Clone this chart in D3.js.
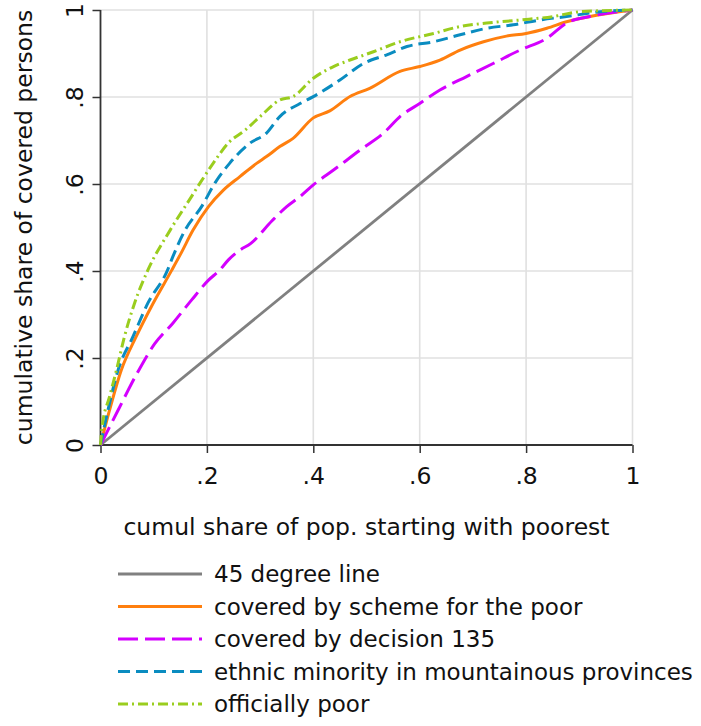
<!DOCTYPE html>
<html>
<head>
<meta charset="utf-8">
<script src="https://cdn.jsdelivr.net/npm/d3@7"></script>
<style>
  body { margin: 0; background: #fff; }
  svg text { font-family: "DejaVu Sans", Verdana, sans-serif; fill: #111; }
</style>
</head>
<body>
<svg id="chart" width="701" height="726"></svg>
<script>
// concentration curves: cumulative share of covered persons vs population share
const ticks = [0, 0.2, 0.4, 0.6, 0.8, 1];
const tickLabels = ["0", ".2", ".4", ".6", ".8", "1"];

const diagonal = [[0, 0], [1, 1]];
const schemePoor = [[0,0],[0.017,0.08],[0.039,0.172],[0.067,0.249],[0.099,0.326],[0.134,0.402],[0.151,0.44],[0.174,0.494],[0.203,0.548],[0.231,0.586],[0.262,0.617],[0.294,0.648],[0.312,0.663],[0.337,0.686],[0.362,0.705],[0.4,0.752],[0.431,0.768],[0.469,0.801],[0.506,0.82],[0.563,0.859],[0.6,0.87],[0.638,0.885],[0.676,0.908],[0.72,0.927],[0.763,0.94],[0.8,0.946],[0.839,0.958],[0.876,0.973],[0.92,0.985],[1,1]];
const decision135 = [[0,0],[0.033,0.08],[0.072,0.172],[0.102,0.233],[0.136,0.28],[0.171,0.333],[0.203,0.379],[0.224,0.402],[0.24,0.425],[0.262,0.448],[0.282,0.463],[0.322,0.515],[0.35,0.548],[0.375,0.571],[0.4,0.598],[0.438,0.632],[0.488,0.678],[0.532,0.717],[0.563,0.755],[0.6,0.785],[0.638,0.816],[0.688,0.847],[0.738,0.877],[0.789,0.908],[0.839,0.935],[0.876,0.97],[0.92,0.985],[1,1]];
const ethnicMountain = [[0,0],[0.014,0.08],[0.033,0.172],[0.061,0.249],[0.089,0.326],[0.126,0.402],[0.136,0.433],[0.159,0.494],[0.19,0.548],[0.215,0.602],[0.243,0.648],[0.281,0.694],[0.312,0.717],[0.337,0.755],[0.375,0.785],[0.4,0.801],[0.45,0.839],[0.494,0.877],[0.538,0.897],[0.576,0.916],[0.626,0.927],[0.676,0.943],[0.726,0.958],[0.776,0.966],[0.826,0.977],[0.876,0.985],[0.939,0.996],[1,1]];
const officiallyPoor = [[0,0],[0.003,0.042],[0.017,0.111],[0.03,0.172],[0.045,0.249],[0.064,0.326],[0.089,0.402],[0.131,0.494],[0.171,0.571],[0.187,0.602],[0.212,0.648],[0.24,0.694],[0.272,0.724],[0.3,0.755],[0.337,0.793],[0.362,0.801],[0.4,0.843],[0.438,0.87],[0.469,0.885],[0.513,0.904],[0.563,0.927],[0.626,0.946],[0.676,0.962],[0.726,0.97],[0.789,0.977],[0.851,0.985],[0.901,0.996],[1,1]];

const seriesNames = ["45 degree line", "covered by scheme for the poor", "covered by decision 135", "ethnic minority in mountainous provinces", "officially poor"];
const seriesData = [diagonal, schemePoor, decision135, ethnicMountain, officiallyPoor];

const colors = ["#808080", "#ff7f0e", "#d400ff", "#0a8cc0", "#9acd1e"];
const dashes = [null, null, "20 7", "12 6", "10 4 2 4"];
const widths = [2.8, 3, 3, 3, 3];
const fs = 23.5;

const svg = d3.select("#chart");
const mar = { top: 10, right: 68.5, bottom: 281, left: 100.5 };
const w = 701 - mar.left - mar.right;
const h = 726 - mar.top - mar.bottom;
const g = svg.append("g").attr("transform", `translate(${mar.left},${mar.top})`);

const x = d3.scaleLinear().domain([0, 1]).range([0, w]);
const y = d3.scaleLinear().domain([0, 1]).range([h, 0]);
// scales

g.append("g").selectAll("line")
    .data(ticks.slice(1))
    .enter().append("line")
    .attr("x1", d => x(d)).attr("x2", d => x(d))
    .attr("y1", 0).attr("y2", h)
    .attr("stroke", "#e0e0e0").attr("stroke-width", 1.6);
g.append("g").selectAll("line")
    .data(ticks.slice(1))
    .enter().append("line")
    .attr("x1", 0).attr("x2", w)
    .attr("y1", d => y(d)).attr("y2", d => y(d))
    .attr("stroke", "#e0e0e0").attr("stroke-width", 1.6);
// grid

const xAxis = g.append("g")
    .attr("transform", `translate(0,${h})`)
    .call(d3.axisBottom(x).tickValues(ticks).tickFormat((d, i) => tickLabels[i]).tickSize(8).tickPadding(14));
const yAxis = g.append("g")
    .call(d3.axisLeft(y).tickValues(ticks).tickFormat((d, i) => tickLabels[i]).tickSize(8));
[xAxis, yAxis].forEach(a => {
    a.select(".domain").attr("stroke", "#333").attr("stroke-width", 1.8);
    a.selectAll(".tick line").attr("stroke", "#333").attr("stroke-width", 1.5);
    a.selectAll("text").attr("font-size", fs).attr("fill", "#111")
        .attr("font-family", "DejaVu Sans, Verdana, sans-serif");
});
xAxis.select(".domain").attr("d", `M0,0H${w}`);
yAxis.select(".domain").attr("d", `M0,0V${h}`);
yAxis.selectAll(".tick text")
    .attr("x", null).attr("dy", null)
    .attr("text-anchor", "middle")
    .attr("transform", "translate(-18,0) rotate(-90)");
// axes

const line = d3.line().curve(d3.curveMonotoneX).x(d => x(d[0])).y(d => y(d[1]));
g.append("g").selectAll("path")
    .data(seriesData)
    .enter().append("path")
    .attr("d", line)
    .attr("fill", "none")
    .attr("stroke", (d, i) => colors[i])
    .attr("stroke-width", (d, i) => widths[i])
    .attr("stroke-dasharray", (d, i) => dashes[i])
    .attr("stroke-linejoin", "round");
// curves

svg.append("text")
    .attr("transform", `translate(32,${mar.top + h / 2}) rotate(-90)`)
    .attr("text-anchor", "middle")
    .attr("font-size", fs)
    .text("cumulative share of covered persons");
svg.append("text")
    .attr("x", mar.left + w / 2)
    .attr("y", 535)
    .attr("text-anchor", "middle")
    .attr("font-size", fs)
    .text("cumul share of pop. starting with poorest");
// titles

const leg = svg.append("g").selectAll("g")
    .data(seriesNames)
    .enter().append("g")
    .attr("transform", (d, i) => `translate(0,${574 + i * 32.5})`);
leg.append("line")
    .attr("x1", 118).attr("x2", 202)
    .attr("stroke", (d, i) => colors[i])
    .attr("stroke-width", (d, i) => widths[i])
    .attr("stroke-dasharray", (d, i) => dashes[i]);
leg.append("text")
    .attr("x", 214).attr("dy", "0.35em")
    .attr("font-size", 23)
    .text(d => d);
// legend
</script>
</body>
</html>
